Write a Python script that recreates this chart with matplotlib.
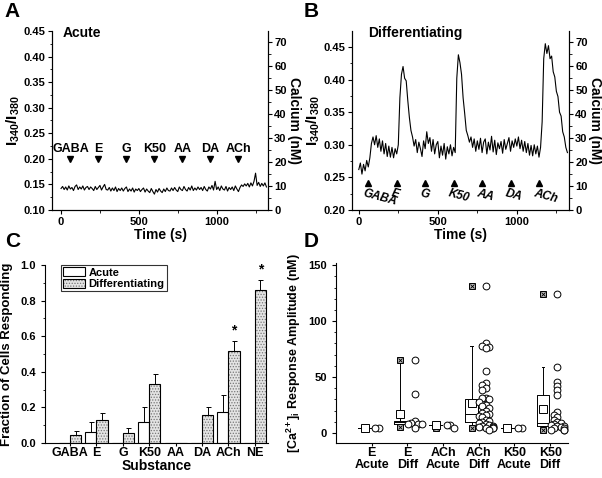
import numpy as np
import matplotlib
matplotlib.use("Agg")
import matplotlib.pyplot as plt
from matplotlib.patches import Patch
from matplotlib.ticker import MultipleLocator

plt.rcParams['font.family'] = ['Liberation Sans', 'DejaVu Sans']
plt.rcParams['font.weight'] = 'bold'
plt.rcParams['axes.labelweight'] = 'bold'
plt.rcParams['mathtext.fontset'] = 'custom'
plt.rcParams['mathtext.rm'] = 'Liberation Sans:bold'
plt.rcParams['mathtext.bf'] = 'Liberation Sans:bold'
plt.rcParams['mathtext.it'] = 'Liberation Sans:bold:italic'
plt.rcParams['mathtext.default'] = 'bf'
plt.rcParams['hatch.linewidth'] = 0.6

# ---- traces (ratio sampled every 10 s)
trace_t = np.arange(0, 1330, 10)
acute_ratio = [
    0.142, 0.146, 0.140, 0.145, 0.139, 0.147, 0.141, 0.144, 0.138, 0.146,
    0.149, 0.140, 0.145, 0.141, 0.147, 0.139, 0.144, 0.146, 0.140, 0.145,
    0.142, 0.138, 0.146, 0.140, 0.144, 0.148, 0.139, 0.145, 0.150, 0.140,
    0.139, 0.144, 0.137, 0.143, 0.138, 0.145, 0.136, 0.142, 0.138, 0.143,
    0.137, 0.142, 0.145, 0.136, 0.141, 0.137, 0.143, 0.135, 0.141, 0.138,
    0.142, 0.136, 0.140, 0.143, 0.135, 0.141, 0.137, 0.134, 0.142, 0.136,
    0.131, 0.140, 0.135, 0.142, 0.137, 0.134, 0.141, 0.136, 0.143, 0.138,
    0.137, 0.143, 0.138, 0.144, 0.139, 0.136, 0.145, 0.140, 0.138, 0.146,
    0.140, 0.137, 0.144, 0.139, 0.147, 0.138, 0.143, 0.139, 0.145, 0.140,
    0.144, 0.138, 0.146, 0.140, 0.137, 0.145, 0.141, 0.148, 0.139, 0.156,
    0.140, 0.145, 0.138, 0.147, 0.141, 0.139, 0.146, 0.137, 0.144, 0.140,
    0.145, 0.138, 0.147, 0.141, 0.136, 0.144, 0.149, 0.146, 0.151, 0.147,
    0.152, 0.145, 0.153, 0.147, 0.156, 0.172, 0.148, 0.154, 0.146, 0.152,
    0.147, 0.153, 0.145,
]
diff_ratio = [
    0.262, 0.272, 0.255, 0.270, 0.260, 0.276, 0.266, 0.280, 0.302, 0.312,
    0.300, 0.314, 0.296, 0.309, 0.290, 0.306, 0.286, 0.302, 0.282, 0.298,
    0.281, 0.296, 0.280, 0.294, 0.286, 0.300, 0.372, 0.408, 0.420, 0.402,
    0.398, 0.368, 0.342, 0.322, 0.312, 0.298, 0.308, 0.288, 0.304, 0.294,
    0.282, 0.306, 0.294, 0.320, 0.302, 0.311, 0.290, 0.308, 0.286, 0.300,
    0.305, 0.280, 0.298, 0.284, 0.302, 0.278, 0.297, 0.286, 0.300, 0.283,
    0.296, 0.288, 0.402, 0.438, 0.426, 0.408, 0.372, 0.348, 0.322, 0.314,
    0.304, 0.312, 0.296, 0.309, 0.290, 0.306, 0.293, 0.310, 0.288, 0.304,
    0.309, 0.286, 0.304, 0.292, 0.313, 0.289, 0.307, 0.285, 0.303, 0.294,
    0.305, 0.287, 0.308, 0.293, 0.302, 0.311, 0.290, 0.306, 0.296, 0.309,
    0.298, 0.312, 0.294, 0.307, 0.290, 0.305, 0.288, 0.302, 0.284, 0.299,
    0.283, 0.300, 0.286, 0.298, 0.281, 0.296, 0.335, 0.432, 0.455, 0.440,
    0.452, 0.432, 0.436, 0.412, 0.404, 0.382, 0.374, 0.350, 0.344, 0.320,
    0.312, 0.296, 0.288,
]
stim_names = ['GABA', 'E', 'G', 'K50', 'AA', 'DA', 'ACh']
stim_times = [60, 240, 420, 600, 780, 960, 1140]

# ---- panel C
substances = ['GABA', 'E', 'G', 'K50', 'AA', 'DA', 'ACh', 'NE']
frac_acute = [0, 0.06, 0, 0.12, 0, 0, 0.175, 0]
frac_acute_err = [0, 0.06, 0, 0.08, 0, 0, 0.095, 0]
frac_diff = [0.043, 0.13, 0.058, 0.33, 0, 0.16, 0.515, 0.86]
frac_diff_err = [0.027, 0.04, 0.027, 0.055, 0, 0.04, 0.06, 0.055]
significant = ['ACh', 'NE']

# ---- panel D
groups = ['E\nAcute', 'E\nDiff', 'ACh\nAcute', 'ACh\nDiff', 'K50\nAcute', 'K50\nDiff']
box_q1 = [4, 8, 7, 10, 4, 6]
box_med = [4, 9.5, 7, 17, 4, 9]
box_q3 = [4, 10.5, 7, 30, 4, 34]
box_lo = [4, 5, 4, 4, 4, 3]
box_hi = [4, 65, 7, 78, 4, 59]
box_mean = [4, 17, 7, 27, 4, 21]
ext_lo = [4, 5, 4, 4, 4, 3]
ext_hi = [4, 65, 7, 131, 4, 124]
amp_points = [
    [4, 4],
    [65, 35, 11, 9, 8, 8, 8, 4],
    [4.5, 7.5, 7],
    [131, 80, 78, 77, 76, 55, 45, 43, 40, 38, 31, 31, 30, 28, 25, 24, 22,
     20, 18, 17, 16, 15, 14, 12, 11, 10, 9, 8, 7, 6, 6, 5, 5, 4, 4, 4, 3],
    [4, 4],
    [124, 59, 46, 42, 38, 34, 19, 16, 14, 12, 10, 9, 8, 7, 6, 6, 5, 4, 4, 3, 3, 3],
]

fig = plt.figure(figsize=(6.02, 4.78), dpi=100)


def trace_panel(rect, ratio, ylim, yticks, title, title_x, xlim, acute):
    ax = fig.add_axes(rect)
    ax.plot(trace_t, ratio, color='k', lw=0.8)
    ax.set_xlim(*xlim)
    ax.set_ylim(*ylim)
    ax.set_yticks(yticks)
    ax.yaxis.set_minor_locator(MultipleLocator(0.025))
    ax.set_xticks([0, 500, 1000])
    ax.xaxis.set_minor_locator(MultipleLocator(250))
    ax.spines['top'].set_visible(False)
    ax.tick_params(labelsize=8, length=3, width=0.8, pad=2)
    ax.tick_params(which='minor', length=1.8, width=0.6)
    ax.set_ylabel(r'I$_{340}$/I$_{380}$', fontsize=11, labelpad=1)
    ax.set_xlabel('Time (s)', fontsize=10, labelpad=1)
    for lab in ax.get_xticklabels() + ax.get_yticklabels():
        lab.set_fontweight('bold')
    if acute:
        ax.plot(stim_times, [0.20] * len(stim_times), 'kv', ms=5)
        for name, t in zip(stim_names, stim_times):
            ax.text(t, 0.208, name, ha='center', va='bottom', fontsize=9)
    else:
        ax.plot(stim_times, [0.242] * len(stim_times), 'k^', ms=5)
        for name, t in zip(stim_names, stim_times):
            ax.text(t - 22, 0.235, name, ha='left', va='top', fontsize=8.5,
                    style='italic', rotation=-15, rotation_mode='anchor')
    ax.text(title_x, 1.03, title, transform=ax.transAxes,
            ha='left', va='top', fontsize=10)
    ax2 = ax.twinx()
    ax2.set_ylim(0, 74.6)
    ax2.set_yticks(range(0, 71, 10))
    ax2.yaxis.set_minor_locator(MultipleLocator(5))
    ax2.spines['top'].set_visible(False)
    ax2.tick_params(labelsize=8, length=3, width=0.8, pad=1.5)
    ax2.tick_params(which='minor', length=1.8, width=0.6)
    for lab in ax2.get_yticklabels():
        lab.set_fontweight('bold')
    ax2.set_ylabel('Calcium (nM)', fontsize=10, rotation=270, labelpad=10)
    return ax


trace_panel([0.0864, 0.5607, 0.3588, 0.3745], acute_ratio, (0.10, 0.45),
            np.arange(0.10, 0.451, 0.05), 'Acute', 0.05, (-58, 1330), True)
trace_panel([0.5847, 0.5607, 0.3605, 0.3745], diff_ratio, (0.20, 0.4745),
            np.arange(0.20, 0.451, 0.05), 'Differentiating', 0.075, (-43, 1330), False)

# ---- C
axc = fig.add_axes([0.0748, 0.0732, 0.3704, 0.3724])
x = np.arange(len(substances))
bw = 0.42
axc.bar(x - bw / 2, frac_acute, bw, color='white', edgecolor='k', lw=0.8)
axc.errorbar(x - bw / 2, frac_acute, yerr=[np.zeros(len(x)), frac_acute_err],
             fmt='none', ecolor='k', elinewidth=0.7, capsize=1.8, capthick=0.7)
axc.bar(x + bw / 2, frac_diff, bw, color='#e4e4e4', edgecolor='#777777',
        hatch='......', lw=0)
axc.bar(x + bw / 2, frac_diff, bw, color='none', edgecolor='k', lw=0.8)
axc.errorbar(x + bw / 2, frac_diff, yerr=[np.zeros(len(x)), frac_diff_err],
             fmt='none', ecolor='k', elinewidth=0.7, capsize=1.8, capthick=0.7)
for name in significant:
    i = substances.index(name)
    axc.text(x[i] + bw / 2, frac_diff[i] + frac_diff_err[i] + 0.02, '*',
             ha='center', va='bottom', fontsize=10)
axc.set_xlim(-0.95, 7.5)
axc.set_ylim(0, 1.0)
axc.set_xticks(x)
axc.set_xticklabels(substances)
axc.set_yticks(np.arange(0, 1.01, 0.2))
axc.set_yticklabels(['0.0', '0.2', '0.4', '0.6', '0.8', '1.0'])
axc.yaxis.set_minor_locator(MultipleLocator(0.1))
axc.spines['top'].set_visible(False)
axc.spines['right'].set_visible(False)
axc.tick_params(axis='y', labelsize=8, length=3, width=0.8)
axc.tick_params(axis='y', which='minor', length=1.8, width=0.6)
axc.tick_params(axis='x', labelsize=9, length=2, width=0.8, pad=1)
for lab in axc.get_xticklabels() + axc.get_yticklabels():
    lab.set_fontweight('bold')
axc.set_ylabel('Fraction of Cells Responding', fontsize=9.5, labelpad=5)
axc.set_xlabel('Substance', fontsize=10, labelpad=0)
h_acute = Patch(facecolor='white', edgecolor='k', lw=0.8)
h_diff = (Patch(facecolor='#e4e4e4', edgecolor='#777777', hatch='......', lw=0),
          Patch(facecolor='none', edgecolor='k', lw=0.8))
leg = axc.legend([h_acute, h_diff], ['Acute', 'Differentiating'], loc='upper left',
                 bbox_to_anchor=(0.07, 1.0), fontsize=8, fancybox=False,
                 edgecolor='k', handlelength=2.0, handleheight=0.9,
                 borderpad=0.2, labelspacing=0.1, handletextpad=0.3,
                 borderaxespad=0)
leg.get_frame().set_linewidth(0.8)

# ---- D
axd = fig.add_axes([0.5581, 0.0732, 0.3854, 0.3766])
gx = np.arange(len(groups))
stats = []
for i in range(len(groups)):
    stats.append(dict(med=box_med[i], q1=box_q1[i], q3=box_q3[i],
                      whislo=box_lo[i], whishi=box_hi[i], mean=box_mean[i],
                      fliers=[]))
axd.bxp(stats, positions=gx - 0.2, widths=0.36, capwidths=0.08, showmeans=True,
        manage_ticks=False,
        boxprops=dict(color='k', lw=0.7),
        whiskerprops=dict(color='k', lw=0.7),
        capprops=dict(color='k', lw=0.7),
        medianprops=dict(color='k', lw=0.7),
        meanprops=dict(marker='s', mfc='white', mec='k', ms=6, mew=0.7))
for pos_i, (lo, hi) in enumerate(zip(ext_lo, ext_hi)):
    for v in (lo, hi):
        axd.plot(gx[pos_i] - 0.2, v, 's', mfc='#bbbbbb', mec='k', ms=5, mew=0.7)
        axd.plot(gx[pos_i] - 0.2, v, 'x', color='k', ms=3.5, mew=0.6)

# simple swarm: put each point in the first free column to the right of the box
slots = [0.2, 0.1, 0.3, 0.02, 0.4]
for i, vals in enumerate(amp_points):
    placed = {s: [] for s in slots}
    xs, ys = [], []
    for v in sorted(vals, reverse=True):
        chosen = slots[-1]
        for s in slots:
            if all(abs(v - p) >= 4.0 for p in placed[s]):
                chosen = s
                break
        placed[chosen].append(v)
        xs.append(gx[i] + chosen)
        ys.append(v)
    axd.scatter(xs, ys, s=24, facecolor='white', edgecolor='k', lw=0.7, zorder=3)

axd.set_xlim(-1.0, 5.5)
axd.set_ylim(-9, 152)
axd.set_xticks(gx)
axd.set_xticklabels(groups)
axd.set_yticks([0, 50, 100, 150])
axd.yaxis.set_minor_locator(MultipleLocator(10))
axd.spines['top'].set_visible(False)
axd.spines['right'].set_visible(False)
axd.tick_params(axis='y', labelsize=8, length=3, width=0.8)
axd.tick_params(axis='y', which='minor', length=1.8, width=0.6)
axd.tick_params(axis='x', labelsize=9, length=2, width=0.8, pad=1)
for lab in axd.get_xticklabels() + axd.get_yticklabels():
    lab.set_fontweight('bold')
    lab.set_linespacing(0.95)
axd.set_ylabel(r'[Ca$^{2+}$]$_i$ Response Amplitude (nM)', fontsize=9, labelpad=4)

for letter, fx, fy in [('A', 0.008, 0.995), ('B', 0.505, 0.995),
                       ('C', 0.008, 0.515), ('D', 0.505, 0.515)]:
    fig.text(fx, fy, letter, ha='left', va='top', fontsize=15, fontweight='bold')

fig.savefig('out.png', dpi=100)
